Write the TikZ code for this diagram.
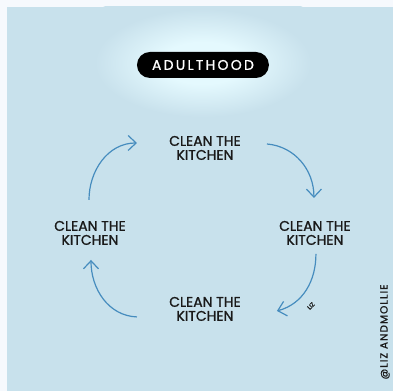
\documentclass[tikz,border=0pt]{standalone}
\usepackage{fontspec}
\setmainfont{Poppins}
\usepackage{tikz}
\usetikzlibrary{arrows.meta}
\definecolor{paleblue}{RGB}{200,225,236}
\definecolor{paper}{RGB}{246,249,253}
\definecolor{glow}{RGB}{228,249,254}
\definecolor{loopblue}{RGB}{70,140,190}
\definecolor{ink}{RGB}{25,25,25}
\pgfdeclareradialshading{halo}{\pgfpoint{0bp}{0bp}}{%
    color(0bp)=(glow); color(7bp)=(glow); color(18bp)=(paleblue); color(50bp)=(paleblue)}

\begin{document}
\begin{tikzpicture}[
    x=1pt, y=1pt,
    >={Straight Barb[length=8pt,width=15pt]},
    chore/.style={
        align=center,
        font=\fontsize{14}{14}\selectfont\addfontfeature{FakeBold=1.2},
        text=ink,
        inner sep=2pt
    },
    loop/.style={
        ->,
        draw=loopblue,
        line width=1.2pt
    }
]

% Background
\fill[paper] (0,0) rectangle (393,391);
\fill[paleblue] (7,0) rectangle (393,384);

% Glow behind the title
\begin{scope}
    \clip (7,0) rectangle (393,384);
    \shade[shading=halo] (203,328) ellipse [x radius=150pt, y radius=75pt];
\end{scope}

% Title
\node[fill=black, rounded corners=13pt, minimum width=132pt, minimum height=26pt,
      text=white, font=\fontsize{14}{16}\selectfont\addfontfeature{LetterSpace=16,FakeBold=1}] (title) at (203,326) {ADULTHOOD};

% Chores
\node[chore] (top) at (205,243) {CLEAN THE\\KITCHEN};
\node[chore] (right) at (315,158) {CLEAN THE\\KITCHEN};
\node[chore] (bottom) at (205,82) {CLEAN THE\\KITCHEN};
\node[chore] (left) at (90,158) {CLEAN THE\\KITCHEN};

% Loop arrows
\draw[loop] ([shift={(-1,33)}]left.center) to[out=90, in=180] ([shift={(-68,5)}]top.center);
\draw[loop] ([shift={(62,4)}]top.center) to[out=-5, in=90] ([shift={(-1,35)}]right.center);
\draw[loop] ([shift={(1,-21)}]right.center) to[out=-90, in=15] ([shift={(72,-2)}]bottom.center);
\draw[loop] ([shift={(-68,-8)}]bottom.center) to[out=178, in=-90] ([shift={(1,-27)}]left.center);

% Signatures
\node[rotate=45, inner sep=1pt, font=\fontsize{6}{6}\selectfont\addfontfeature{FakeBold=1}, text=ink] (signature) at (311,85) {LIZ};
\node[rotate=90, font=\fontsize{10.5}{11}\selectfont\addfontfeature{LetterSpace=10,FakeBold=1}, text=ink] (credit) at (385,59) {@LIZ ANDMOLLIE};

\end{tikzpicture}
\end{document}
